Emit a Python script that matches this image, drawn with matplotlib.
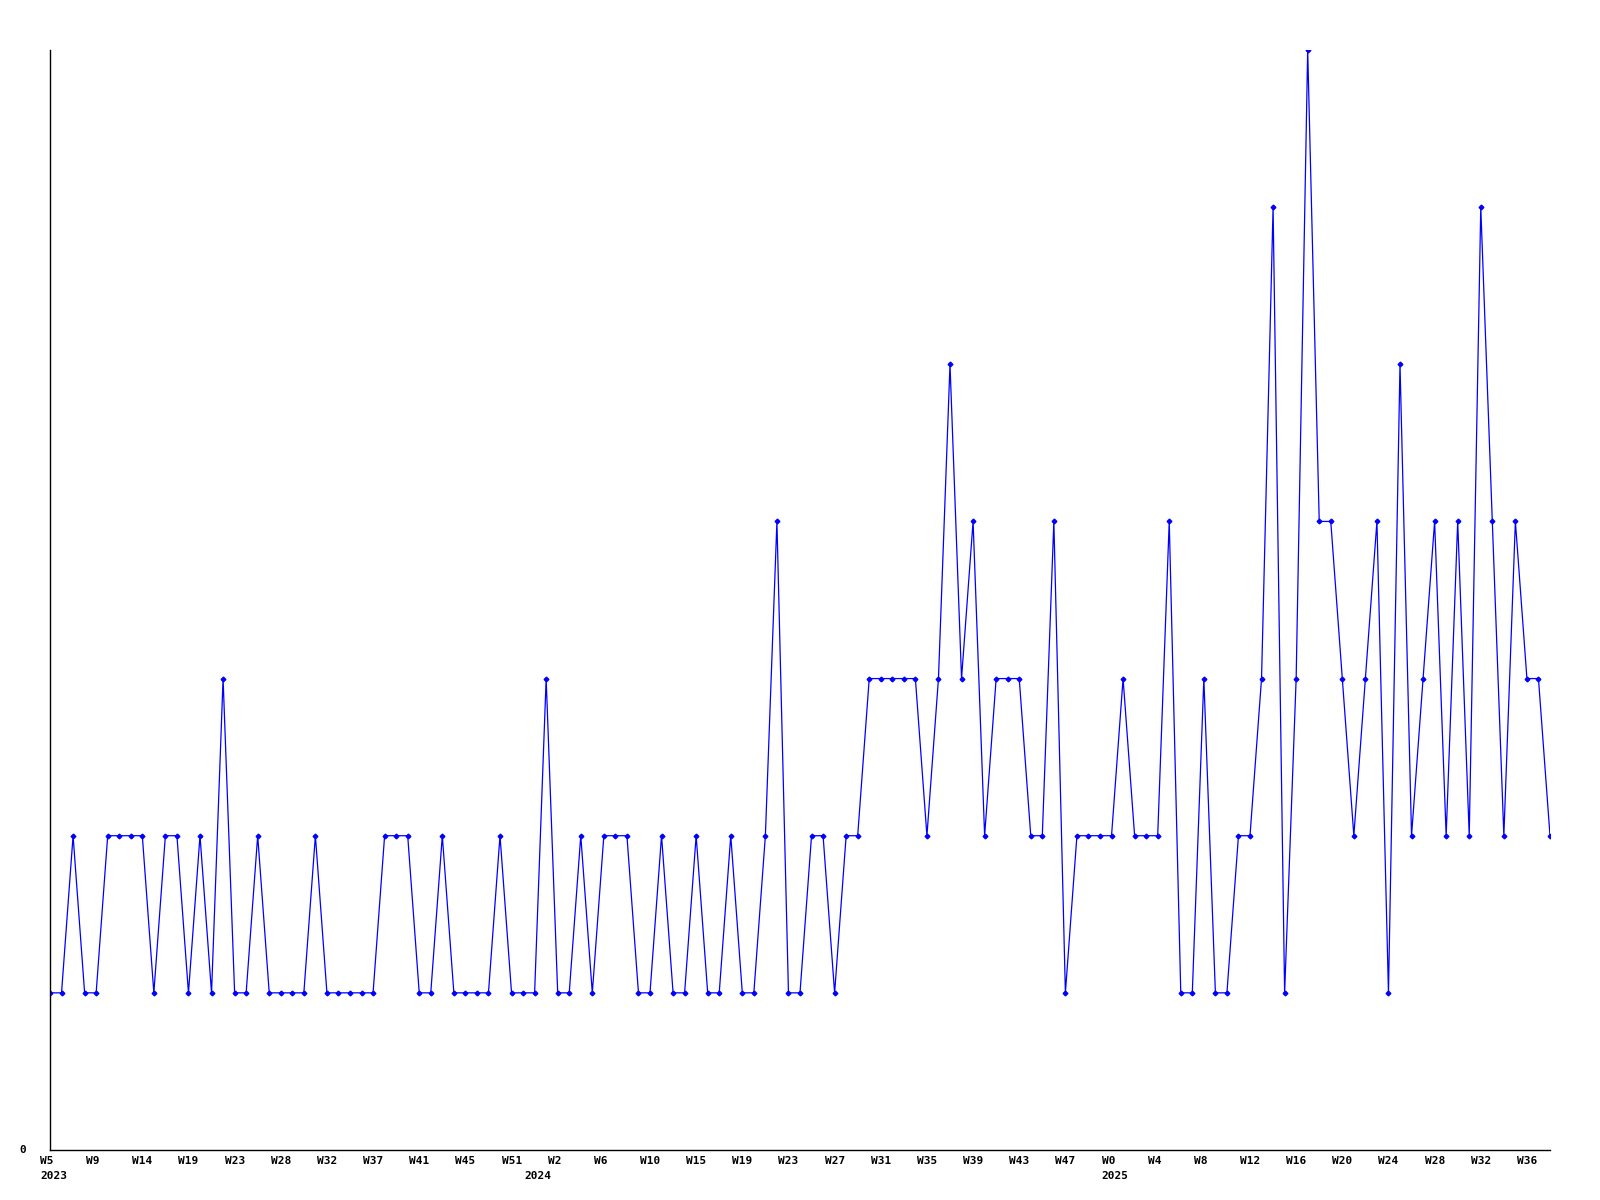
import matplotlib
matplotlib.use("Agg")
import matplotlib.pyplot as plt
from matplotlib.transforms import offset_copy

values = [1, 1, 2, 1, 1, 2, 2, 2, 2, 1, 2, 2, 1, 2, 1, 3, 1, 1, 2, 1,
          1, 1, 1, 2, 1, 1, 1, 1, 1, 2, 2, 2, 1, 1, 2, 1, 1, 1, 1, 2,
          1, 1, 1, 3, 1, 1, 2,
          1, 2, 2, 2, 1, 1, 2, 1, 1, 2, 1, 1, 2, 1, 1, 2, 4, 1, 1, 2,
          2, 1, 2, 2, 3, 3, 3, 3, 3, 2, 3, 5, 3, 4, 2, 3, 3, 3, 2, 2,
          4, 1, 2,
          2, 2, 2, 3, 2, 2, 2, 4, 1, 1, 3, 1, 1, 2, 2, 3, 6, 1, 3, 7,
          4, 4, 3, 2, 3, 4, 1, 5, 2, 3, 4, 2, 4, 2, 6, 4, 2, 4, 3, 3, 2]

week_labels = ["W5", "W9", "W14", "W19", "W23", "W28", "W32", "W37", "W41", "W45", "W51",
               "W2", "W6", "W10", "W15", "W19", "W23", "W27", "W31", "W35", "W39", "W43", "W47",
               "W0", "W4", "W8", "W12", "W16", "W20", "W24", "W28", "W32", "W36"]
label_step = 4
year_labels = ["2023", "2024", "2025"]
year_positions = [0, 42, 92]

fig = plt.figure(figsize=(16, 12), dpi=100)
ax = fig.add_axes([50/1600, 1 - 1150/1200, 1500/1600, 1100/1200])

x = list(range(len(values)))
ax.plot(x, values, color="#0000ff", linewidth=0.9, marker="D", markersize=2.4,
        markerfacecolor="#0000ff", markeredgecolor="#0000ff", clip_on=True)

ax.set_xlim(0, len(values) - 1)
ax.set_ylim(0, 7)
for s in ["top", "right"]:
    ax.spines[s].set_visible(False)
for s in ["left", "bottom"]:
    ax.spines[s].set_color("black")
    ax.spines[s].set_linewidth(1.0)
ax.set_xticks([])
ax.set_yticks([])

font = dict(family="DejaVu Sans Mono", fontweight="bold", fontsize=8, color="black")
tr = offset_copy(ax.get_xaxis_transform(), fig=fig, x=-10, y=-6, units="dots")
for i, lab in enumerate(week_labels):
    ax.text(i * label_step, 0, lab, transform=tr, ha="left", va="top", **font)
tr2 = offset_copy(ax.get_xaxis_transform(), fig=fig, x=-10, y=-21, units="dots")
for pos, lab in zip(year_positions, year_labels):
    ax.text(pos, 0, lab, transform=tr2, ha="left", va="top", **font)

tr3 = offset_copy(ax.get_yaxis_transform(), fig=fig, x=-24, y=0, units="dots")
ax.text(0, 0, "0", transform=tr3, ha="right", va="center", **font)

fig.savefig("out.png", dpi=100)
